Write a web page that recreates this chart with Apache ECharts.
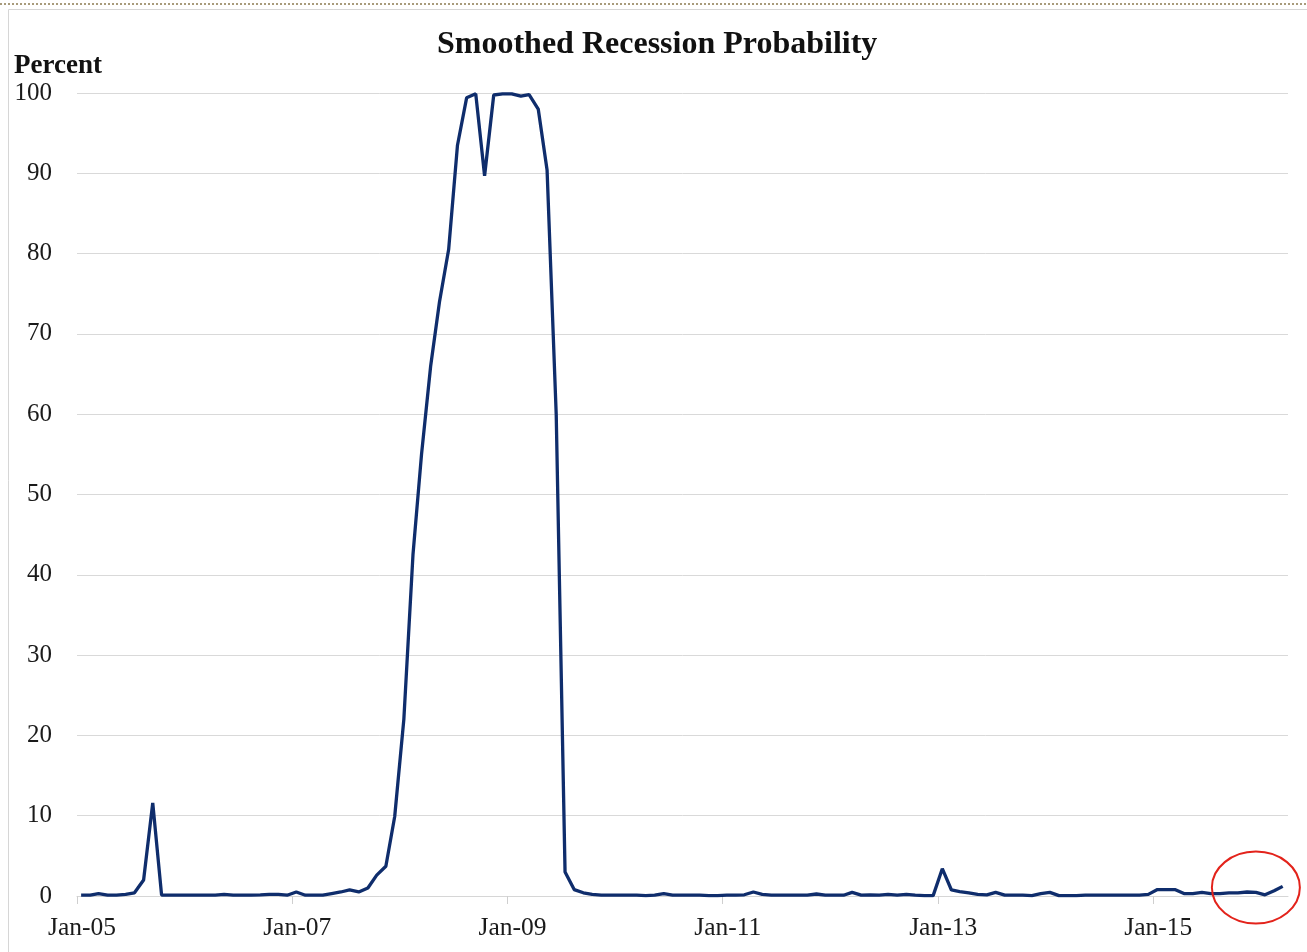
<!DOCTYPE html>
<html><head><meta charset="utf-8">
<script src="https://cdn.jsdelivr.net/npm/echarts@6/dist/echarts.min.js"></script>
<style>html,body{margin:0;padding:0;background:#fff}#c{width:1307px;height:952px}</style>
</head><body><div id="c"></div>
<script>
const titleText = 'Smoothed Recession Probability';
const yAxisTitle = 'Percent';
// monthly smoothed recession probability (percent), Jan 2005 .. Mar 2016
const v2005 = [0.1,0.1,0.3,0.1,0.1,0.2,0.4,2.0,11.6,0.1,0.1,0.1];
const v2006 = [0.1,0.1,0.1,0.1,0.2,0.1,0.1,0.1,0.15,0.2,0.2,0.1];
const v2007 = [0.5,0.1,0.1,0.1,0.3,0.5,0.75,0.5,1.0,2.6,3.7,9.9];
const v2008 = [22,42.5,55,66,74,80.5,93.5,99.4,99.9,89.7,99.75,99.9];
const v2009 = [99.9,99.6,99.8,98,90.4,60,3.0,0.8,0.4,0.2,0.1,0.1];
const v2010 = [0.1,0.1,0.1,0.05,0.1,0.3,0.1,0.1,0.1,0.1,0.05,0.05];
const v2011 = [0.1,0.1,0.15,0.5,0.2,0.1,0.1,0.1,0.1,0.1,0.25,0.1];
const v2012 = [0.1,0.1,0.45,0.1,0.15,0.1,0.2,0.1,0.2,0.1,0.05,0.05];
const v2013 = [3.4,0.75,0.55,0.4,0.2,0.15,0.45,0.1,0.1,0.1,0.05,0.3];
const v2014 = [0.45,0.05,0.05,0.05,0.1,0.1,0.1,0.1,0.1,0.1,0.1,0.2];
const v2015 = [0.8,0.8,0.8,0.3,0.3,0.45,0.3,0.3,0.4,0.4,0.5,0.45];
const v2016 = [0.15,0.65,1.2];
const values = [].concat(v2005,v2006,v2007,v2008,v2009,v2010,v2011,v2012,v2013,v2014,v2015,v2016);
const startYear = 2005;
const dates = values.map((_, i) => Date.UTC(startYear, i, 15)); // mid-month observations
const tickYears = [2005, 2007, 2009, 2011, 2013, 2015];
const tickLabels = ['Jan-05', 'Jan-07', 'Jan-09', 'Jan-11', 'Jan-13', 'Jan-15'];
const tickValues = tickYears.map(y => Date.UTC(y, 0, 1));
const axisStart = Date.UTC(2005, 0, 1);
const axisEnd = Date.UTC(2016, 3, 2);
// annotation circle around the latest readings
const noteCenter = [Date.UTC(2015, 11, 15), 1.05];

const FONT = '"Liberation Serif", "Times New Roman", serif';
const chart = echarts.init(document.getElementById('c'), null, {renderer: 'canvas'});
chart.setOption({
  animation: false,
  backgroundColor: '#ffffff',
  title: [
    {text: titleText, left: 432, top: 24,
     textStyle: {fontFamily: FONT, fontSize: 32, fontWeight: 'bold', color: '#111'}},
    {text: yAxisTitle, left: 9, top: 48,
     textStyle: {fontFamily: FONT, fontSize: 27, fontWeight: 'bold', color: '#111'}}
  ],
  grid: {left: 77, right: 19, top: 93, bottom: 56, containLabel: false},
  xAxis: {
    type: 'value', min: axisStart, max: axisEnd, scale: true,
    splitLine: {show: false},
    axisLine: {show: true, onZero: true, lineStyle: {color: '#d6d6d6', width: 1}},
    axisTick: {show: true, customValues: tickValues, length: 8, lineStyle: {color: '#cfcfcf'}},
    axisLabel: {
      customValues: tickValues, margin: 19, padding: [0, 0, 0, 10],
      showMinLabel: true, showMaxLabel: true,
      fontFamily: FONT, fontSize: 25.5, color: '#1a1a1a',
      formatter: function (val) {
        let best = 0, d = Infinity;
        tickValues.forEach((t, k) => { const dd = Math.abs(t - val); if (dd < d) { d = dd; best = k; } });
        return tickLabels[best];
      }
    }
  },
  yAxis: {
    type: 'value', min: 0, max: 100, interval: 10,
    axisLine: {show: false}, axisTick: {show: false},
    splitLine: {show: true, lineStyle: {color: '#d9d9d9', width: 1}},
    axisLabel: {margin: 25, fontFamily: FONT, fontSize: 25, color: '#1a1a1a'}
  },
  series: [{
    type: 'line', name: titleText,
    data: dates.map((d, i) => [d, values[i]]),
    symbol: 'none', smooth: false,
    lineStyle: {color: '#0f2d6c', width: 3.3}
  }]
});
const c = chart.convertToPixel({gridIndex: 0}, noteCenter);
chart.setOption({
  graphic: [
    {type: 'line', shape: {x1: 0, y1: 4, x2: 1307, y2: 4},
     style: {stroke: '#8c7b52', lineWidth: 1.5, lineDash: [2, 2]}, silent: true},
    {type: 'polyline', shape: {points: [[8.5, 952], [8.5, 9.5], [1307, 9.5]]},
     style: {stroke: '#d6d6d6', lineWidth: 1, fill: null}, silent: true},
    {type: 'ellipse', shape: {cx: c[0], cy: c[1], rx: 44, ry: 36},
     style: {stroke: '#e3231b', lineWidth: 2, fill: null}, silent: true, z: 100}
  ]
});
</script></body></html>
